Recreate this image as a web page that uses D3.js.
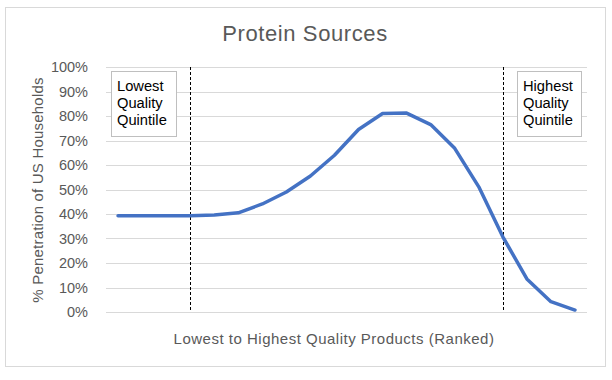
<!DOCTYPE html>
<html>
<head>
<meta charset="utf-8">
<script src="https://cdn.jsdelivr.net/npm/d3@7"></script>
<style>
  html, body { margin: 0; padding: 0; background: #fff; }
  svg { display: block; font-family: Arial, "Liberation Sans", sans-serif; }
</style>
</head>
<body>
<svg id="chart" width="612" height="380"></svg>
<script>
// ---- data ----
const ranks = d3.range(1, 21); // 20 ranked products (categories)
const penetration = [0.393, 0.393, 0.393, 0.393, 0.396, 0.405, 0.441, 0.490, 0.555, 0.640,
                     0.745, 0.810, 0.812, 0.765, 0.668, 0.511, 0.307, 0.135, 0.042, 0.008];
const yTicks = [0, 0.1, 0.2, 0.3, 0.4, 0.5, 0.6, 0.7, 0.8, 0.9, 1.0];
const quintileMarks = [4, 17]; // ranks where dashed lines sit
const titleText = "Protein Sources";
const xTitle = "Lowest to Highest Quality Products (Ranked)";
const yTitle = "% Penetration of US Households";
const lowLabel = ["Lowest", "Quality", "Quintile"];
const highLabel = ["Highest", "Quality", "Quintile"];

// ---- layout ----
const svg = d3.select("#chart");
const plot = { left: 106, right: 587, top: 67, bottom: 312 };
const grey = "#595959";

svg.append("rect")
  .attr("x", 5.5).attr("y", 7.5).attr("width", 600).attr("height", 359)
  .attr("fill", "#fff").attr("stroke", "#d9d9d9");

const x = d3.scalePoint().domain(ranks).range([plot.left, plot.right]).padding(0.5);
const y = d3.scaleLinear().domain([0, 1]).range([plot.bottom, plot.top]);

// gridlines
svg.append("g").selectAll("line").data(yTicks).join("line")
  .attr("x1", plot.left).attr("x2", plot.right)
  .attr("y1", d => Math.round(y(d)) + 0.5).attr("y2", d => Math.round(y(d)) + 0.5)
  .attr("stroke", "#d9d9d9").attr("stroke-width", 1);

// y axis labels
const yAxis = d3.axisLeft(y).tickValues(yTicks).tickFormat(d3.format(".0%")).tickSize(0).tickPadding(0);
const gy = svg.append("g").attr("transform", `translate(${plot.left - 18},0)`).call(yAxis);
gy.select(".domain").remove();
gy.selectAll("text").attr("fill", grey).style("font-size", "14.5px")
  .style("font-family", "Arial, 'Liberation Sans', sans-serif");

// dashed quintile lines
svg.append("g").selectAll("line").data(quintileMarks).join("line")
  .attr("x1", d => Math.round(x(d)) + 0.5).attr("x2", d => Math.round(x(d)) + 0.5)
  .attr("y1", plot.top).attr("y2", plot.bottom)
  .attr("stroke", "#000").attr("stroke-width", 1).attr("stroke-dasharray", "3,2");

// line
const line = d3.line().x((d, i) => x(ranks[i])).y(d => y(d));
svg.append("path").datum(penetration)
  .attr("d", line).attr("fill", "none")
  .attr("stroke", "#4472c4").attr("stroke-width", 3.5)
  .attr("stroke-linejoin", "round").attr("stroke-linecap", "round");

// label boxes
function labelBox(x0, lines, w) {
  const g = svg.append("g");
  g.append("rect").attr("x", x0 + 0.5).attr("y", 71.5).attr("width", w).attr("height", 65)
    .attr("fill", "#fff").attr("stroke", "#bfbfbf");
  g.selectAll("text").data(lines).join("text")
    .attr("x", x0 + 6).attr("y", (d, i) => 91 + i * 17)
    .attr("fill", "#000").style("font-size", "14.7px").text(d => d);
}
labelBox(111, lowLabel, 65);
labelBox(517, highLabel, 64);

// titles
svg.append("text").attr("x", 305).attr("y", 41).attr("text-anchor", "middle")
  .attr("fill", grey).style("font-size", "22px").style("letter-spacing", "0.6px").text(titleText);
svg.append("text").attr("x", 334).attr("y", 344).attr("text-anchor", "middle")
  .attr("fill", grey).style("font-size", "15px").style("letter-spacing", "0.5px").text(xTitle);
svg.append("text").attr("transform", `translate(43,190) rotate(-90)`).attr("text-anchor", "middle")
  .attr("fill", grey).style("font-size", "15px").style("letter-spacing", "0.2px").text(yTitle);
</script>
</body>
</html>
